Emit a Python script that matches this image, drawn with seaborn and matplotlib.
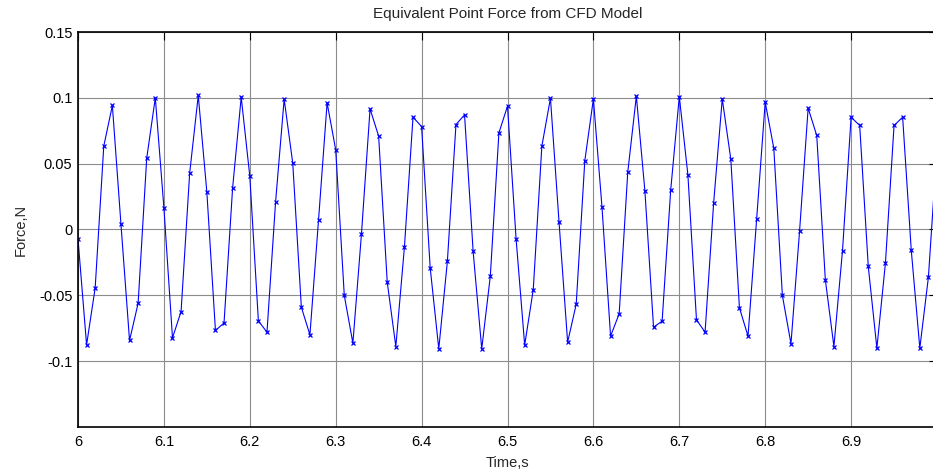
import numpy as np
import pandas as pd
import seaborn as sns
import matplotlib
matplotlib.use("Agg")
import matplotlib.pyplot as plt

# sample times (s), 0.01 s step from 6.00 to 7.00
time_s = [round(6.0 + 0.01 * i, 2) for i in range(101)]

# equivalent point force (N)
force_n = [
    -0.0071, -0.0876, -0.0443, 0.0633, 0.0942, 0.0041, -0.0843, -0.0560, 0.0542, 0.1000,
    0.0165, -0.0823, -0.0623, 0.0428, 0.1018, 0.0284, -0.0767, -0.0710, 0.0316, 0.1005,
    0.0405, -0.0694, -0.0780, 0.0208, 0.0990, 0.0504, -0.0590, -0.0800, 0.0071, 0.0962,
    0.0605, -0.0501, -0.0863, -0.0033, 0.0916, 0.0709, -0.0400, -0.0889, -0.0134, 0.0853,
    0.0782, -0.0291, -0.0906, -0.0243, 0.0797, 0.0871, -0.0167, -0.0906, -0.0354, 0.0734,
    0.0937, -0.0071, -0.0878, -0.0456, 0.0633, 0.0997, 0.0056, -0.0856, -0.0567, 0.0522,
    0.0992, 0.0170, -0.0810, -0.0640, 0.0435, 0.1013, 0.0289, -0.0742, -0.0696, 0.0300,
    0.1010, 0.0415, -0.0686, -0.0780, 0.0203, 0.0992, 0.0532, -0.0595, -0.0810, 0.0076,
    0.0967, 0.0618, -0.0501, -0.0868, -0.0013, 0.0922, 0.0714, -0.0381, -0.0889, -0.0160,
    0.0853, 0.0790, -0.0281, -0.0901, -0.0253, 0.0790, 0.0853, -0.0154, -0.0901, -0.0362,
    0.0625,
]

x_ticks = [6.0, 6.1, 6.2, 6.3, 6.4, 6.5, 6.6, 6.7, 6.8, 6.9]
x_tick_labels = ["6", "6.1", "6.2", "6.3", "6.4", "6.5", "6.6", "6.7", "6.8", "6.9"]
y_ticks = [-0.1, -0.05, 0.0, 0.05, 0.1, 0.15]
y_tick_labels = ["-0.1", "-0.05", "0", "0.05", "0.1", "0.15"]

df = pd.DataFrame({"Time": time_s, "Force": force_n})

sns.set_style("white")
plt.rcParams["font.family"] = ["Liberation Sans", "DejaVu Sans"]

fig = plt.figure(figsize=(9.33, 4.73), dpi=100)
W, H = 933, 473
# axes spans 78..937 px horizontally (right edge cropped), 32..427 px vertically
ax = fig.add_axes([78 / W, (H - 427) / H, (937 - 78) / W, (427 - 32) / H])

sns.lineplot(data=df, x="Time", y="Force", ax=ax, color="#0000ff", linewidth=0.8,
             marker="x", markersize=3.5, markeredgewidth=0.9, markeredgecolor="#0000ff",
             estimator=None, sort=False)

ax.set_xlim(6.0, 7.0)
ax.set_ylim(-0.15, 0.15)
ax.set_xticks(x_ticks)
ax.set_xticklabels(x_tick_labels)
ax.set_yticks(y_ticks)
ax.set_yticklabels(y_tick_labels)
ax.grid(True, color="#8c8c8c", linewidth=0.8)
ax.set_axisbelow(True)
ax.tick_params(axis="both", direction="in", length=6, width=0.8, colors="black",
               labelsize=10.5, top=True, right=True, labeltop=False, labelright=False)
ax.tick_params(axis="y", pad=4)
ax.tick_params(axis="x", pad=6)
for s in ax.spines.values():
    s.set_color("black")
    s.set_linewidth(1.2)

ax.set_title("Equivalent Point Force from CFD Model", fontsize=11, pad=10)
ax.set_xlabel("Time,s", fontsize=10.5, labelpad=5)
ax.set_ylabel("Force,N", fontsize=10.5, labelpad=8)

fig.savefig("out.png", dpi=100)
